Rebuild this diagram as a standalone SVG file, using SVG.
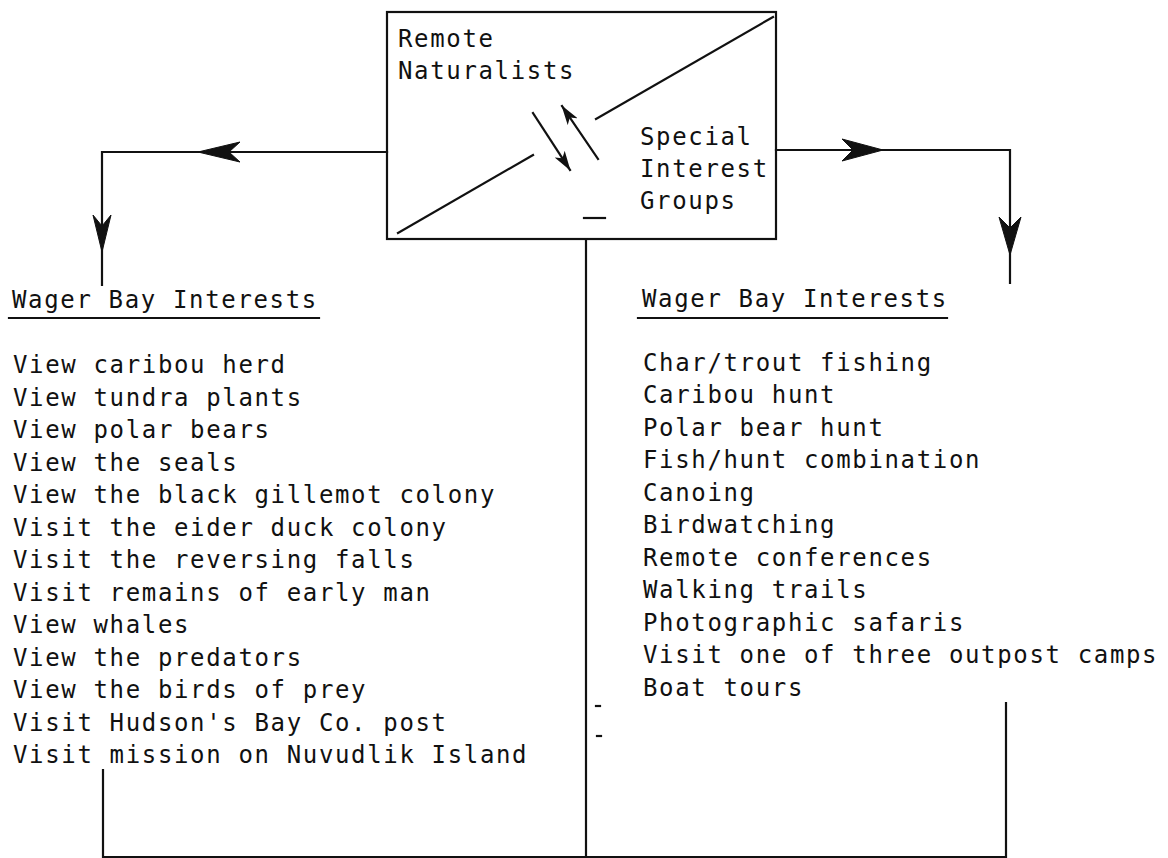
<svg xmlns="http://www.w3.org/2000/svg" width="1168" height="858" viewBox="0 0 1168 858">
<style>
text{font-family:"DejaVu Sans Mono","Liberation Mono",monospace;font-size:24px;letter-spacing:1.65px;fill:#111}
.ln{stroke:#111;stroke-width:2.2;fill:none;stroke-linecap:square}
.ah{fill:#111;stroke:#111;stroke-width:1;stroke-linejoin:round}
</style>
<defs>
<marker id="sharp" markerUnits="userSpaceOnUse" viewBox="0 0 20 12" refX="19" refY="6" markerWidth="20" markerHeight="12" orient="auto">
<path d="M0,0 L20,6 L0,12 L5,6 Z" fill="#111"/>
</marker>
</defs>
<rect width="1168" height="858" fill="#fff"/>

<g id="box">
<rect x="387" y="12" width="389" height="227" class="ln"/>
<line x1="398" y1="233" x2="533" y2="155" class="ln" stroke-width="1.8"/>
<line x1="596" y1="119" x2="773" y2="17" class="ln" stroke-width="1.8"/>
<line x1="533" y1="113" x2="570" y2="170" class="ln" stroke-width="2" marker-end="url(#sharp)"/>
<line x1="598" y1="159" x2="562" y2="106" class="ln" stroke-width="2" marker-end="url(#sharp)"/>
<line x1="584" y1="218" x2="605" y2="218" class="ln" stroke-width="1.5"/>
<text x="398" y="47">Remote</text>
<text x="398" y="79">Naturalists</text>
<text x="640" y="145">Special</text>
<text x="640" y="177">Interest</text>
<text x="640" y="209">Groups</text>
</g>

<g id="connectors">
<polyline points="387,152 102,152 102,285" class="ln"/>
<path d="M198,152 L240,142 L229,152 L240,162 Z" class="ah"/>
<path d="M102,252 L93,215 L102,226 L111,215 Z" class="ah"/>
<polyline points="776,150 1010,150 1010,283" class="ln"/>
<path d="M883,150 L842,139 L853,150 L842,161 Z" class="ah"/>
<path d="M1010,255 L999,217 L1010,228 L1021,217 Z" class="ah"/>
<line x1="586" y1="239" x2="586" y2="857" class="ln"/>
<polyline points="103,770 103,857 1006,857 1006,703" class="ln"/>
<line x1="596" y1="706" x2="600" y2="706" class="ln" stroke-width="1.2"/>
<line x1="597" y1="736" x2="601" y2="736" class="ln" stroke-width="1.5"/>
</g>

<g id="left-list">
<text x="12" y="307.5">Wager Bay Interests</text>
<line x1="9" y1="318" x2="319" y2="318" class="ln" stroke-width="2.5"/>
<text x="13" y="373">View caribou herd</text>
<text x="13" y="405.5">View tundra plants</text>
<text x="13" y="438">View polar bears</text>
<text x="13" y="470.5">View the seals</text>
<text x="13" y="503">View the black gillemot colony</text>
<text x="13" y="535.5">Visit the eider duck colony</text>
<text x="13" y="568">Visit the reversing falls</text>
<text x="13" y="600.5">Visit remains of early man</text>
<text x="13" y="633">View whales</text>
<text x="13" y="665.5">View the predators</text>
<text x="13" y="698">View the birds of prey</text>
<text x="13" y="730.5">Visit Hudson's Bay Co. post</text>
<text x="13" y="763">Visit mission on Nuvudlik Island</text>
</g>

<g id="right-list">
<text x="642" y="307">Wager Bay Interests</text>
<line x1="638" y1="318" x2="947" y2="318" class="ln" stroke-width="2.5"/>
<text x="643" y="370.5">Char/trout fishing</text>
<text x="643" y="403">Caribou hunt</text>
<text x="643" y="435.5">Polar bear hunt</text>
<text x="643" y="468">Fish/hunt combination</text>
<text x="643" y="500.5">Canoing</text>
<text x="643" y="533">Birdwatching</text>
<text x="643" y="565.5">Remote conferences</text>
<text x="643" y="598">Walking trails</text>
<text x="643" y="630.5">Photographic safaris</text>
<text x="643" y="663">Visit one of three outpost camps</text>
<text x="643" y="695.5">Boat tours</text>
</g>
</svg>
